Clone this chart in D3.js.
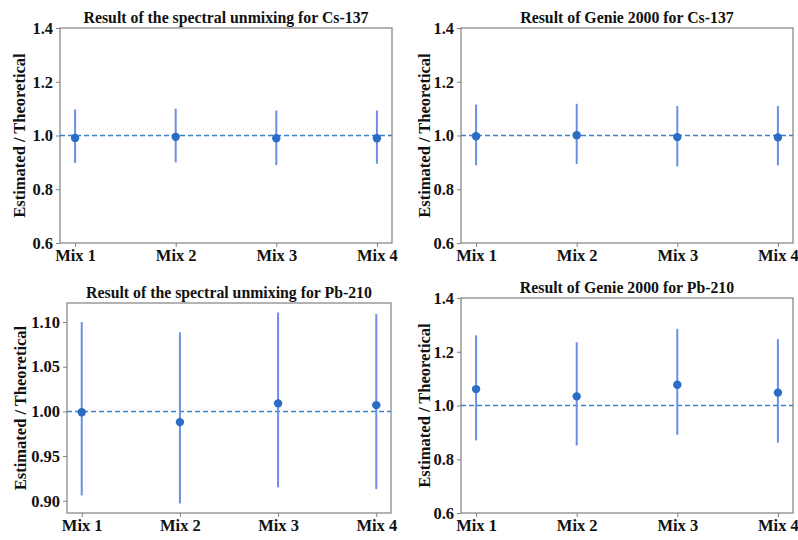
<!DOCTYPE html>
<html>
<head>
<meta charset="utf-8">
<script src="https://cdn.jsdelivr.net/npm/d3@7"></script>
<style>
  body { margin: 0; background: #fff; }
  svg { display: block; }
  text { font-family: "Liberation Serif", "Times New Roman", serif; font-weight: bold; fill: #111; }
</style>
</head>
<body>
<svg id="chart" width="798" height="540"></svg>
<script>
const categories = ["Mix 1", "Mix 2", "Mix 3", "Mix 4"];

const titles = [
  "Result of the spectral unmixing for Cs-137",
  "Result of Genie 2000 for Cs-137",
  "Result of the spectral unmixing for Pb-210",
  "Result of Genie 2000 for Pb-210"
];
const yLabel = "Estimated / Theoretical";

// central estimates
const unmixCs = [0.991, 0.995, 0.990, 0.990];
const genieCs = [0.997, 1.001, 0.994, 0.993];
const unmixPb = [0.999, 0.988, 1.009, 1.007];
const geniePb = [1.061, 1.034, 1.077, 1.048];

// lower / upper error-bar bounds
const unmixCsLo = [0.898, 0.900, 0.890, 0.895];
const unmixCsHi = [1.097, 1.100, 1.093, 1.093];
const genieCsLo = [0.889, 0.894, 0.885, 0.889];
const genieCsHi = [1.115, 1.118, 1.110, 1.110];
const unmixPbLo = [0.906, 0.897, 0.915, 0.913];
const unmixPbHi = [1.100, 1.0885, 1.1106, 1.109];
const geniePbLo = [0.870, 0.851, 0.891, 0.862];
const geniePbHi = [1.261, 1.235, 1.285, 1.247];

const ticksA = [0.6, 0.8, 1.0, 1.2, 1.4];
const ticksPb = [0.90, 0.95, 1.00, 1.05, 1.10];
const refLine = 1.0;

const panels = [
  { title: titles[0], v: unmixCs, lo: unmixCsLo, hi: unmixCsHi, dom: [0.6, 1.4], ticks: ticksA, fmt: ".1f",
    box: { x0: 60, x1: 392, y0: 28, y1: 243 }, labX: 25 },
  { title: titles[1], v: genieCs, lo: genieCsLo, hi: genieCsHi, dom: [0.6, 1.4], ticks: ticksA, fmt: ".1f",
    box: { x0: 461, x1: 793, y0: 28, y1: 243 }, labX: 430 },
  { title: titles[2], v: unmixPb, lo: unmixPbLo, hi: unmixPbHi, dom: null, ticks: ticksPb, fmt: ".2f",
    box: { x0: 67, x1: 391, y0: 303, y1: 513 }, labX: 26 },
  { title: titles[3], v: geniePb, lo: geniePbLo, hi: geniePbHi, dom: [0.6, 1.4], ticks: ticksA, fmt: ".1f",
    box: { x0: 461, x1: 793, y0: 298, y1: 513 }, labX: 430 }
];

const svg = d3.select("#chart");
const barColor = "#6a8fe6";
const dotColor = "#2b6cc4";
const dashColor = "#3a82c8";
const spineColor = "#808080";
const FONT = "'Liberation Serif', 'Times New Roman', serif";

panels.forEach(p => {
  const b = p.box;
  let dom = p.dom;
  if (!dom) {
    const mn = d3.min(p.lo), mx = d3.max(p.hi);
    const pad = (mx - mn) * 0.05;
    dom = [mn - pad, mx + pad];
  }
  // category index scale with matplotlib-like 5% margins
  const xl = d3.scaleLinear().domain([-0.15, categories.length - 1 + 0.15]).range([b.x0, b.x1]);
  const xc = c => xl(categories.indexOf(c));
  const y = d3.scaleLinear().domain(dom).range([b.y1, b.y0]);

  const g = svg.append("g");

  // frame
  g.append("rect").attr("x", b.x0).attr("y", b.y0).attr("width", b.x1 - b.x0).attr("height", b.y1 - b.y0)
    .attr("fill", "none").attr("stroke", spineColor).attr("stroke-width", 1.2);

  // y axis
  const ya = g.append("g").attr("transform", `translate(${b.x0},0)`)
    .call(d3.axisLeft(y).tickValues(p.ticks).tickFormat(d3.format(p.fmt)).tickSize(4).tickPadding(3));
  ya.select(".domain").remove();
  ya.selectAll(".tick line").attr("stroke", spineColor);
  ya.selectAll(".tick text").style("font-size", "16.5px").style("font-family", FONT).style("font-weight", "bold").attr("fill", "#111");

  // x axis
  const xa = g.append("g").attr("transform", `translate(0,${b.y1})`)
    .call(d3.axisBottom(xl).tickValues(d3.range(categories.length)).tickFormat(i => categories[i]).tickSize(4).tickPadding(2));
  xa.select(".domain").remove();
  xa.selectAll(".tick line").attr("stroke", spineColor);
  xa.selectAll(".tick text").style("font-size", "16.5px").style("font-family", FONT).style("font-weight", "bold").attr("fill", "#111");

  // title
  g.append("text").attr("x", (b.x0 + b.x1) / 2).attr("y", b.y0 - 5).attr("text-anchor", "middle")
    .style("font-size", "15.8px").style("font-family", FONT).text(p.title);

  // y label
  g.append("text").attr("transform", `translate(${p.labX},${(b.y0 + b.y1) / 2}) rotate(-90)`)
    .attr("text-anchor", "middle").style("font-size", "16.5px").style("font-family", FONT).text(yLabel);

  // reference dashed line
  g.append("line").attr("x1", b.x0).attr("x2", b.x1).attr("y1", y(refLine)).attr("y2", y(refLine))
    .attr("stroke", dashColor).attr("stroke-width", 1.5).attr("stroke-dasharray", "5,3");

  const data = categories.map((c, i) => ({ c, v: p.v[i], lo: p.lo[i], hi: p.hi[i] }));

  g.selectAll(".eb").data(data).enter().append("line")
    .attr("x1", d => xc(d.c)).attr("x2", d => xc(d.c))
    .attr("y1", d => y(d.lo)).attr("y2", d => y(d.hi))
    .attr("stroke", barColor).attr("stroke-width", 2);

  g.selectAll(".pt").data(data).enter().append("circle")
    .attr("cx", d => xc(d.c)).attr("cy", d => y(d.v)).attr("r", 4.2)
    .attr("fill", dotColor);
});
</script>
</body>
</html>
